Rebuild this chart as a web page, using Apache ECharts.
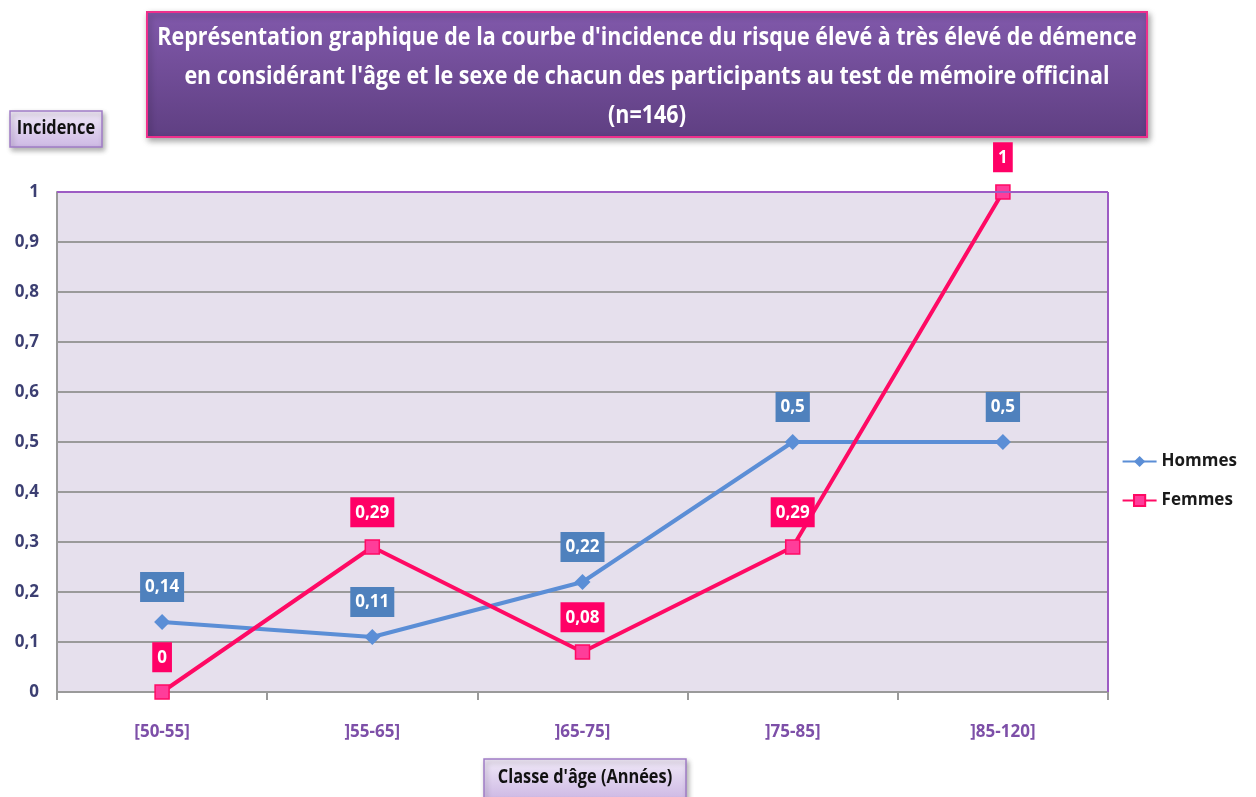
<!DOCTYPE html>
<html><head><meta charset="utf-8">
<script src="https://cdn.jsdelivr.net/npm/echarts@6/dist/echarts.min.js"></script>
<style>html,body{margin:0;padding:0;background:#fff}#c{width:1256px;height:797px}</style>
</head><body><div id="c"></div>
<script>
const categories = ['[50-55]', ']55-65]', ']65-75]', ']75-85]', ']85-120]'];
const hommes = [0.14, 0.11, 0.22, 0.5, 0.5];
const femmes = [0, 0.29, 0.08, 0.29, 1];
const titleLines = ["Représentation graphique de la courbe d'incidence du risque élevé à très élevé de démence", "en considérant l'âge et le sexe de chacun des participants au test de mémoire officinal", "(n=146)"];
const yAxisTitle = 'Incidence';
const xAxisTitle = "Classe d'âge (Années)";

const FONT = "'Open Sans', sans-serif";
const chart = echarts.init(document.getElementById('c'));
const fmt = v => String(v).replace('.', ',');

function labelBox(bg) {
  return {show: true, position: 'top', distance: 12, formatter: p => fmt(p.value),
    color: '#fff', fontFamily: FONT, fontWeight: 'bold', fontSize: 17,
    backgroundColor: bg, padding: [7, 5, 6, 5]};
}
function boxGradient(){ return new echarts.graphic.LinearGradient(0,0,0,1,[{offset:0,color:'#f1eaf8'},{offset:1,color:'#cdb8e4'}]); }

chart.setOption({
  animation: false,
  backgroundColor: '#fff',
  grid: {left: 57, right: 148, top: 192, bottom: 105},
  legend: {orient: 'vertical', right: 14, top: 448, itemGap: 22, itemWidth: 34, itemHeight: 14,
    textStyle: {fontFamily: FONT, fontWeight: 'bold', fontSize: 17, color: '#1a1a1a'},
    data: ['Hommes', 'Femmes']},
  xAxis: {type: 'category', data: categories, boundaryGap: true,
    axisLine: {lineStyle: {color: '#9a9a9a', width: 2}},
    axisTick: {show: true, length: 8, lineStyle: {color: '#9a9a9a', width: 2}},
    axisLabel: {margin: 32, color: '#7d4fa8', fontFamily: FONT, fontWeight: 'bold', fontSize: 17}},
  yAxis: {type: 'value', min: 0, max: 1, interval: 0.1,
    axisLine: {show: true, lineStyle: {color: '#9a9a9a', width: 2}},
    axisTick: {show: false},
    splitLine: {lineStyle: {color: '#9a9a9a', width: 2}},
    splitArea: {show: true, areaStyle: {color: ['#e6e0ed', '#e6e0ed']}},
    axisLabel: {margin: 18, color: '#3c3f72', fontFamily: FONT, fontWeight: 'bold', fontSize: 17, formatter: v => fmt(Math.round(v*10)/10)}},
  series: [
    {name: 'Hommes', type: 'line', data: hommes, symbol: 'diamond', symbolSize: 16,
      lineStyle: {color: '#5b8ed6', width: 4}, itemStyle: {color: '#5b8ed6'},
      label: labelBox('#4f81bd')},
    {name: 'Femmes', type: 'line', data: femmes, symbol: 'rect', symbolSize: 14,
      lineStyle: {color: '#ff0a64', width: 4}, itemStyle: {color: '#ff3d9a', borderColor: '#ff0a64', borderWidth: 1.5},
      label: labelBox('#ff0066'), z: 3}
  ],
  graphic: [
    {type: 'line', shape: {x1: 57, y1: 192, x2: 1108, y2: 192}, style: {stroke: '#9d5cc4', lineWidth: 2}, z: 5},
    {type: 'line', shape: {x1: 1108, y1: 192, x2: 1108, y2: 692}, style: {stroke: '#9d5cc4', lineWidth: 2}, z: 5},
    {type: 'rect', shape: {x: 147, y: 12, width: 1000, height: 125},
      style: {fill: new echarts.graphic.LinearGradient(0,0,0,1,[{offset:0,color:'#8159ab'},{offset:1,color:'#5f3f82'}]),
        stroke: '#ee2f8c', lineWidth: 2, shadowBlur: 6, shadowOffsetX: 2, shadowOffsetY: 3, shadowColor: 'rgba(0,0,0,0.35)'}},
    {type: 'text', x: 647, y: 77, scaleX: 0.86, z: 10, style: {text: titleLines.join('\n'), fill: '#fff', align: 'center', verticalAlign: 'middle',
      font: "bold 25px " + FONT, lineHeight: 39}},
    {type: 'rect', shape: {x: 10, y: 111, width: 92, height: 36},
      style: {fill: boxGradient(), stroke: '#a07cc6', lineWidth: 1.5, shadowBlur: 5, shadowOffsetX: 2, shadowOffsetY: 3, shadowColor: 'rgba(0,0,0,0.3)'}},
    {type: 'text', x: 56, y: 129, scaleX: 0.86, z: 10, style: {text: yAxisTitle, fill: '#111', align: 'center', verticalAlign: 'middle', font: "bold 19px " + FONT}},
    {type: 'rect', shape: {x: 484, y: 759, width: 202, height: 40},
      style: {fill: boxGradient(), stroke: '#a07cc6', lineWidth: 1.5, shadowBlur: 5, shadowOffsetX: 2, shadowOffsetY: 3, shadowColor: 'rgba(0,0,0,0.3)'}},
    {type: 'text', x: 585, y: 778, scaleX: 0.86, z: 10, style: {text: xAxisTitle, fill: '#111', align: 'center', verticalAlign: 'middle', font: "bold 19px " + FONT}}
  ]
});
</script></body></html>
